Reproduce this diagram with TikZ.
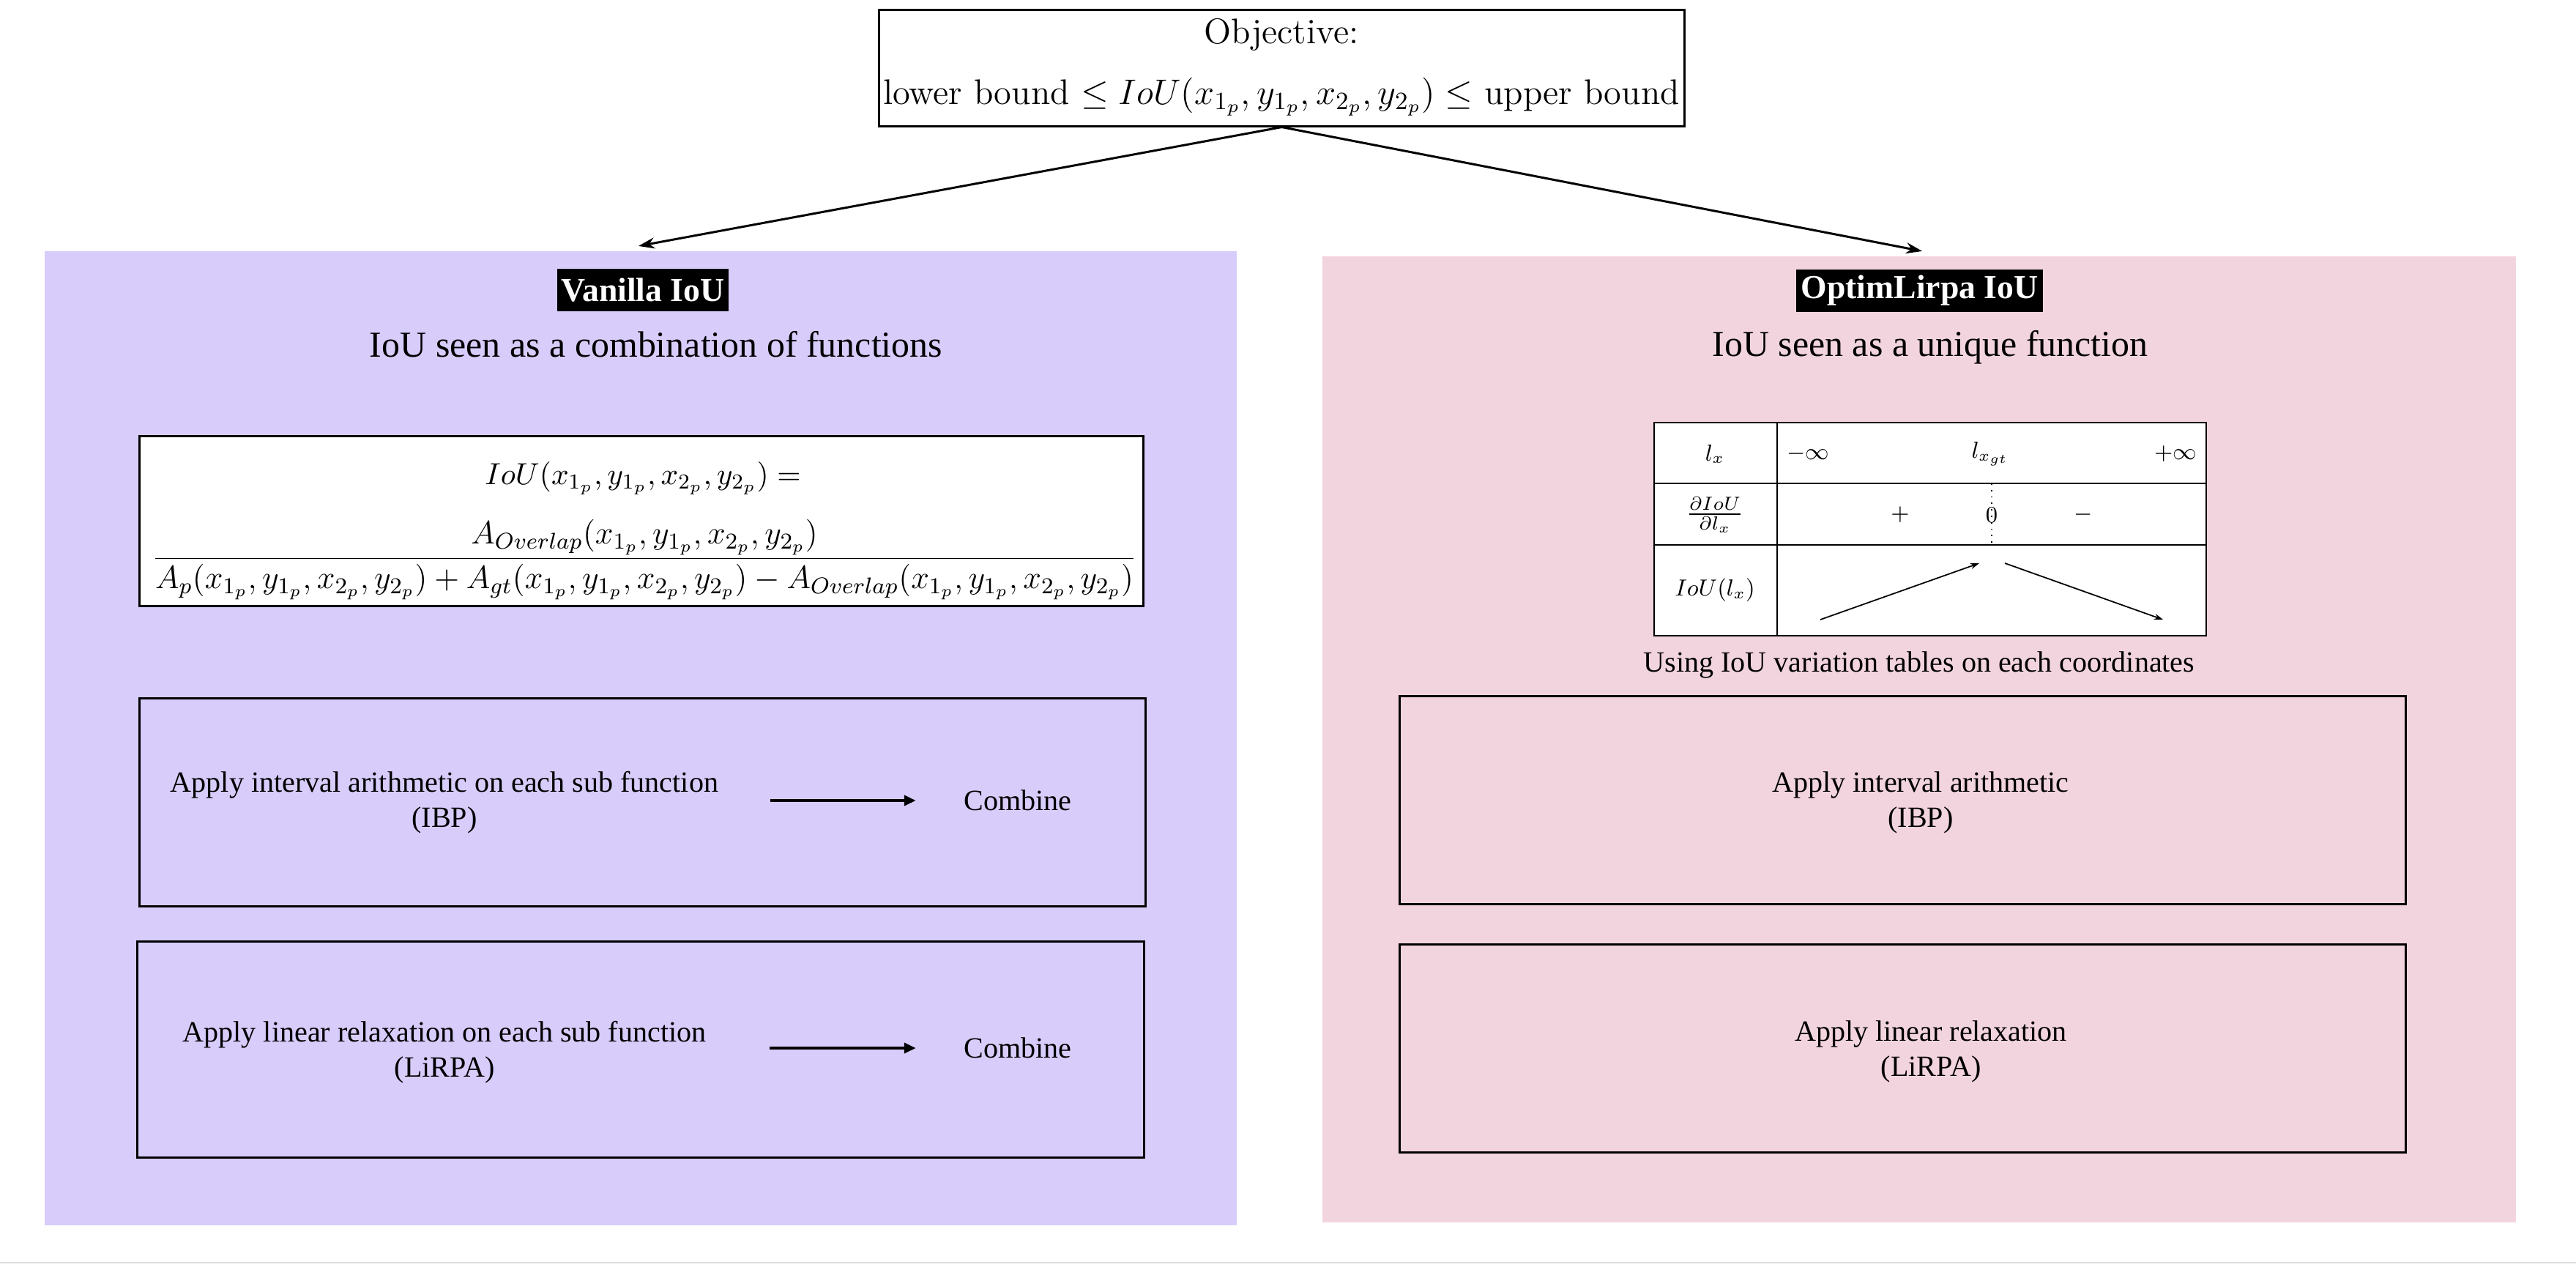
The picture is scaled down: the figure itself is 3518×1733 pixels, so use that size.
\RequirePackage{fix-cm}
\documentclass[tikz,border=0pt]{standalone}
\usepackage{fontspec}
\newfontfamily\tnr{Liberation Serif}
\usetikzlibrary{arrows.meta}
\definecolor{lav}{RGB}{216,204,251}
\definecolor{pinkbg}{RGB}{242,212,223}
\definecolor{rulegray}{RGB}{221,221,221}
\begin{document}
\begin{tikzpicture}[x=0.01cm,y=-0.01cm,
  box/.style={draw,line width=0.85pt,inner sep=0pt},
  panel/.style={draw=none,inner sep=0pt},
  tag/.style={fill=black,text=white,inner sep=0pt,font=\tnr\bfseries\fontsize{13}{15}\selectfont},
  subt/.style={inner sep=0pt,font=\tnr\fontsize{14.2}{17}\selectfont},
  txt/.style={inner sep=0pt,align=center,font=\tnr\fontsize{11.4}{13.7}\selectfont},
  lm/.style={inner sep=0pt,font=\fontsize{13.8}{16}\selectfont},
  tabf/.style={inner sep=0pt,font=\fontsize{9}{11}\selectfont},
  arr/.style={-{Stealth[length=0.22cm,width=0.15cm]},line width=0.85pt},
  carr/.style={-{Triangle[length=0.16cm,width=0.14cm]},line width=1.1pt},
  tarr/.style={-{Stealth[length=0.12cm,width=0.08cm]},line width=0.5pt},
  tline/.style={line width=0.6pt}
]
\fill[white] (0,0) rectangle (3518,1733);
\useasboundingbox (0,0) rectangle (3518,1733);
\draw[rulegray,line width=0.7pt] (0,1724) -- (3518,1724);

% panels
\node[panel,fill=lav,minimum width=16.28cm,minimum height=13.30cm] (van) at (875,1008) {};
\node[panel,fill=pinkbg,minimum width=16.29cm,minimum height=13.19cm] (opt) at (2620.5,1009.5) {};

% objective
\node[box,minimum width=10.99cm,minimum height=1.58cm] (obj) at (1750.5,93) {};
\node[lm] (objt1) at (1750,47) {Objective:};
\node[lm] (objt2) at (1750,132) {lower bound $\leq IoU(x_{1_p},y_{1_p},x_{2_p},y_{2_p})\leq$ upper bound};

\draw[arr] (obj.south) -- ([xshift=-0.03cm,yshift=0.06cm]van.north);
\draw[arr] (obj.south) -- ([xshift=0.045cm,yshift=0.06cm]opt.north);

% headers
\node[tag,minimum width=2.34cm,minimum height=0.58cm] (vtag) at (878,396) {Vanilla IoU};
\node[tag,minimum width=3.37cm,minimum height=0.58cm] (otag) at (2621.5,397) {OptimLirpa IoU};
\node[subt] (vsub) at (896,470) {IoU seen as a combination of functions};
\node[subt] (osub) at (2636,474) {IoU seen as a unique function};

% formula box
\node[box,fill=white,minimum width=13.70cm,minimum height=2.31cm] (fbox) at (876,711.5) {};
\node[inner sep=0pt,font=\fontsize{11.8}{14}\selectfont] (feq) at (878,653) {$IoU(x_{1_p},y_{1_p},x_{2_p},y_{2_p})=$};
\node[inner sep=0pt,font=\fontsize{12.6}{15}\selectfont] (ffrac) at (880,764) {$\displaystyle\frac{A_{Overlap}(x_{1_p},y_{1_p},x_{2_p},y_{2_p})}{A_p(x_{1_p},y_{1_p},x_{2_p},y_{2_p})+A_{gt}(x_{1_p},y_{1_p},x_{2_p},y_{2_p})-A_{Overlap}(x_{1_p},y_{1_p},x_{2_p},y_{2_p})}$};

% left boxes
\node[box,minimum width=13.73cm,minimum height=2.83cm] (l2) at (877.5,1095.5) {};
\node[txt] (l2t) at (607,1096) {Apply interval arithmetic on each sub function\\(IBP)};
\node[txt] (l2c) at (1390,1093) {Combine};
\draw[carr,shorten <=0.70cm,shorten >=0.65cm] (l2t.east|-l2c.west) -- (l2c.west);

\node[box,minimum width=13.74cm,minimum height=2.94cm] (l3) at (875,1433) {};
\node[txt] (l3t) at (607,1437) {Apply linear relaxation on each sub function\\(LiRPA)};
\node[txt] (l3c) at (1390,1431) {Combine};
\draw[carr,shorten <=0.86cm,shorten >=0.65cm] (l3t.east|-l3c.west) -- (l3c.west);

% right boxes
\node[box,minimum width=13.73cm,minimum height=2.83cm] (r2) at (2598.5,1092.5) {};
\node[txt] (r2t) at (2623,1096) {Apply interval arithmetic\\(IBP)};
\node[box,minimum width=13.73cm,minimum height=2.83cm] (r3) at (2598.5,1431.5) {};
\node[txt] (r3t) at (2637,1436) {Apply linear relaxation\\(LiRPA)};

% variation table
\node[draw,tline,fill=white,inner sep=0pt,minimum width=7.54cm,minimum height=2.91cm] (tab) at (2636,722.5) {};
\draw[tline] (2427,577) -- (2427,868);
\draw[tline] (2259,660) -- (3013,660);
\draw[tline] (2259,744) -- (3013,744);
\draw[dotted,line width=0.5pt] (2720,660) -- (2720,744);
\node[tabf] (c11) at (2342,620) {$l_x$};
\node[inner sep=0pt,font=\fontsize{10.5}{12}\selectfont] (c21) at (2342,703) {$\frac{\partial IoU}{\partial l_x}$};
\node[tabf] (c31) at (2342,806) {$IoU(l_x)$};
\node[tabf] (c12) at (2469,620) {$-\infty$};
\node[tabf] (c13) at (2718,620) {$l_{x_{gt}}$};
\node[tabf] (c14) at (2971,620) {$+\infty$};
\node[tabf] (c22) at (2595,703) {$+$};
\node[tabf] (c23) at (2720,703) {$0$};
\node[tabf] (c24) at (2845,703) {$-$};
\coordinate (v1) at (2486,846);
\coordinate (v2) at (2703,769);
\coordinate (v3) at (2738,769);
\coordinate (v4) at (2954,846);
\draw[tarr] (v1) -- (v2);
\draw[tarr] (v3) -- (v4);
\node[txt] (tabcap) at (2621,908) {Using IoU variation tables on each coordinates};
\end{tikzpicture}
\end{document}
